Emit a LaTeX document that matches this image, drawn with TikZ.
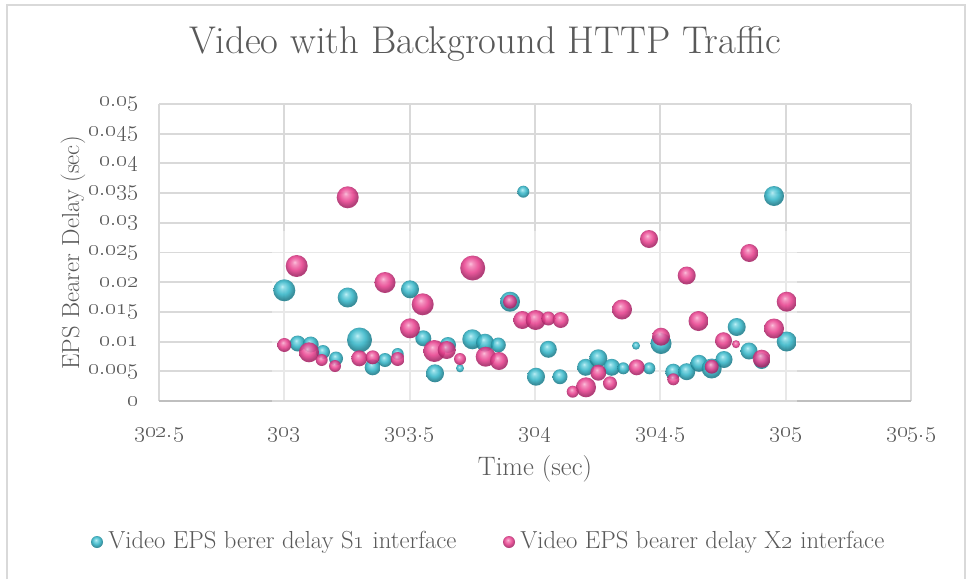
\RequirePackage{fix-cm}
\documentclass[tikz,border=0pt]{standalone}
\usetikzlibrary{shadings}

\definecolor{gridc}{HTML}{D9D9D9}
\definecolor{axisc}{HTML}{BFBFBF}
\definecolor{txt}{HTML}{595959}
\definecolor{cyanhi}{HTML}{B8F1F8}
\definecolor{cyanmid}{HTML}{36B6C8}
\definecolor{cyandk}{HTML}{1E7F8E}
\definecolor{maghi}{HTML}{FCB8D7}
\definecolor{magmid}{HTML}{E8428F}
\definecolor{magdk}{HTML}{A82667}

\pgfdeclareradialshading{cyanball}{\pgfpoint{-5bp}{9bp}}{%
  color(0bp)=(cyanhi); color(5bp)=(cyanhi!55!cyanmid); color(15bp)=(cyanmid);
  color(25bp)=(cyandk); color(50bp)=(cyandk)}
\pgfdeclareradialshading{magball}{\pgfpoint{-5bp}{9bp}}{%
  color(0bp)=(maghi); color(5bp)=(maghi!55!magmid); color(15bp)=(magmid);
  color(25bp)=(magdk); color(50bp)=(magdk)}

\tikzset{
  grid line/.style={gridc, line width=1.4pt},
  axis line/.style={axisc, line width=1.5pt},
  s1 bubble/.style={shading=cyanball, fill opacity=0.88},
  x2 bubble/.style={shading=magball, fill opacity=0.88},
  tick label/.style={text=txt, font=\fontsize{17.5}{20}\selectfont, inner sep=0pt},
  legend text/.style={text=txt, font=\fontsize{18.5}{22}\selectfont, inner sep=0pt, anchor=west},
}

\begin{document}
\begin{tikzpicture}[x=0.75pt, y=-0.75pt]
\useasboundingbox (0,0) rectangle (967,579);

% chart frame
\draw[gridc, line width=1.3pt] (7,579) -- (7,5) -- (965,5) -- (965,579);

% title
\node[text=txt, font=\fontsize{29}{34}\selectfont, inner sep=0pt] (title) at (485,44) {Video with Background HTTP Traffic};

% grid
\foreach \i in {0,...,10}
  \draw[grid line] (159,{401-29.7*\i}) -- (911,{401-29.7*\i});
\foreach \i in {0,...,6}
  \draw[grid line] ({159+125.333*\i},104) -- ({159+125.333*\i},401);
\draw[axis line] (159,401) -- (911,401);
\fill[white, opacity=0.4] (272,231) rectangle (797,403);

% y tick labels
\foreach \v [count=\i from 0] in {0,0.005,0.01,0.015,0.02,0.025,0.03,0.035,0.04,0.045,0.05}
  \node[tick label, anchor=east] (ytick\i) at (139,{401-29.7*\i}) {\oldstylenums{\v}};
% x tick labels
\foreach \v [count=\i from 0] in {302.5,303,303.5,304,304.5,305,305.5}
  \node[tick label] (xtick\i) at ({159+125.333*\i},435) {\oldstylenums{\v}};

% axis titles
\node[text=txt, font=\fontsize{18.5}{22}\selectfont, inner sep=0pt, rotate=90] (ytitle) at (73,253) {EPS Bearer Delay (sec)};
\node[text=txt, font=\fontsize{20}{24}\selectfont, inner sep=0pt] (xtitle) at (535,469) {Time (sec)};

% S1 interface series
\foreach \x/\y/\r in {
  284.3/290.3/11, 347.7/297.5/10, 359.5/340/12.5, 297.7/343.5/8, 310.7/344.5/8,
  323/352/7, 336/358.5/7, 372.7/367.3/8, 385/360/7, 397.7/354/6,
  410/289.3/9, 423.3/338.3/8, 435/373.3/9, 448/345/8, 460/368.3/4,
  472.3/339.3/10, 485/342.7/9, 498.3/345/7.5, 510/301.7/10, 523.3/191.7/6,
  548.3/349.3/8.5, 536/376.7/9, 560/376.7/7.5, 585.7/367.3/8.5, 598.3/358.3/9,
  611.7/367.3/8.5, 623.3/368.3/6, 636/345.7/4, 649.3/368.3/6, 661/343.5/10.5,
  673.3/371.7/8, 686.7/371.7/8.5, 699/363.3/8.5, 711.7/368.5/10, 724/359.5/8.5,
  736.7/327/9, 749/351/8.5, 761.7/361/8, 774/196/10, 786.7/341.5/10}
  \shade[s1 bubble] (\x,\y) circle (\r);

% X2 interface series
\foreach \x/\y/\r in {
  347.7/197.3/11, 296.7/266/11, 472.7/268/12.5, 385/282.5/10.5, 422.7/304.3/11,
  410/328.3/10, 434.3/351/11, 446.7/350/9, 284.3/345/7, 309/352.3/10,
  321.7/360/6, 335/366/6, 359.3/358.3/8, 372.7/357.3/7, 397.7/359/7,
  460/359/6, 485.7/356.7/10, 499/361/9, 510/301.7/7, 522.3/320/9,
  535.7/320/10, 548.3/318.5/7, 560.7/320/8, 622/309.5/10, 598.3/372.7/8,
  610/383.3/7, 586/387.3/10, 572.7/391.7/6, 649/239/9, 686.7/275.5/9,
  749.3/253/9, 786.7/301.7/10, 698.5/321/10, 774/328.5/10, 661/336.7/9,
  723.5/340.7/8.5, 736/344.2/4, 761.7/358.7/9, 711.7/366.7/7, 673.3/379.3/6,
  636.7/367.3/8}
  \shade[x2 bubble] (\x,\y) circle (\r);

% legend
\shade[s1 bubble] (97,542) circle (6);
\node[legend text] (leg1) at (108,542) {Video EPS berer delay S\oldstylenums{1} interface};
\shade[x2 bubble] (509,542) circle (6);
\node[legend text] (leg2) at (520,542) {Video EPS bearer delay X\oldstylenums{2} interface};
\end{tikzpicture}
\end{document}
